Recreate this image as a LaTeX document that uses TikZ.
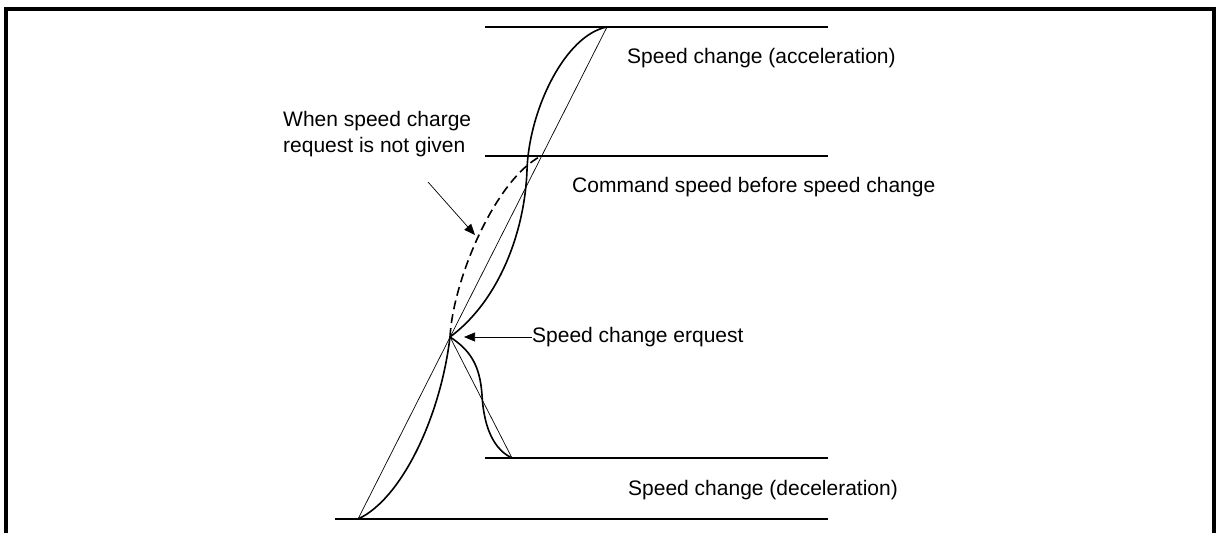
\documentclass[tikz,border=0pt]{standalone}
\usepackage{fontspec}
\setmainfont{Liberation Sans}
\usetikzlibrary{arrows.meta}
\begin{document}
\begin{tikzpicture}[x=1pt,y=-1pt,
  lbl/.style={inner sep=0pt,anchor=base west,font=\fontsize{21}{26}\selectfont},
  level/.style={line width=1.2pt},
  curve/.style={line width=1.6pt},
  thin/.style={line width=0.7pt},
  ptr/.style={line width=0.7pt,-{Triangle[length=11pt,width=9pt]}},
  frame/.style={line width=4pt}]
\useasboundingbox (0,0) rectangle (1216,533);
\draw[frame] (6,533) -- (6,9) -- (1214,9) -- (1214,533);
% key points
\coordinate (S) at (358,519);
\coordinate (R) at (450,337);
\coordinate (T) at (607,27);
\coordinate (D) at (512,458);
\coordinate (C) at (541,156);
% level lines
\draw[level] (485,27) -- (828,27);
\draw[level] (485,156) -- (828,156);
\draw[level] (485,458) -- (828,458);
\draw[level] (335,519) -- (828,519);
% thin straight lines
\draw[thin] (S) -- (T);
\draw[thin] (R) -- (D);
% curves
\draw[curve] (S) .. controls (400,500) and (440,420) .. (R);
\draw[curve] (R) .. controls (500,300) and (525,230) .. (527,170)
  .. controls (529,110) and (565,35) .. (T);
\draw[curve,dash pattern=on 9pt off 5pt] (R) .. controls (453,280) and (495,180) .. (C);
\draw[curve] (R) .. controls (470,350) and (480,365) .. (482,395)
  .. controls (484,430) and (495,450) .. (D);
% labels
\node[lbl] (acc) at (627,63) {Speed change (acceleration)};
\node[lbl,align=left] (notgiven) at (283,152) {When speed charge\\request is not given};
\node[lbl] (cmd) at (572,192) {Command speed before speed change};
\node[lbl] (req) at (532,342) {Speed change erquest};
\node[lbl] (dec) at (628,495) {Speed change (deceleration)};
% pointers
\coordinate (ngfrom) at (428,182);
\coordinate (ngto) at (475,235);
\coordinate (reqto) at (464,337);
\draw[ptr] (ngfrom) -- (ngto);
\draw[ptr] (req.west |- reqto) -- (reqto);
\end{tikzpicture}
\end{document}
